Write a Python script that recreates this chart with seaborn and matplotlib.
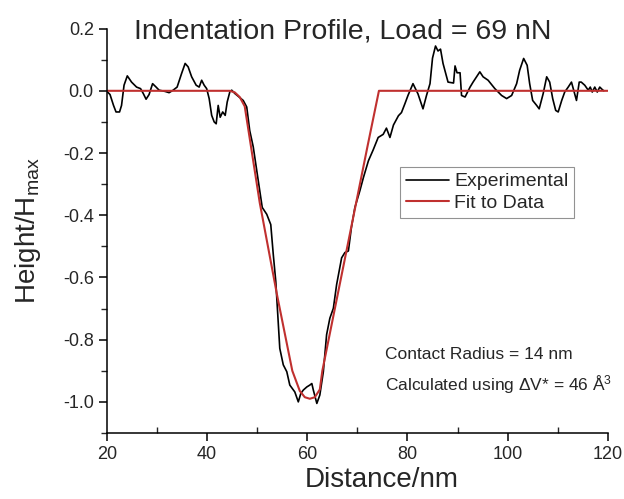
import numpy as np
import seaborn as sns
from matplotlib import pyplot as plt
from matplotlib.ticker import MultipleLocator

# experimental profile
exp_x = [20.0, 20.6, 21.3, 21.8, 22.5, 22.9, 23.4, 24.05, 24.9, 25.9, 26.7, 27.25, 27.8, 28.4, 29.1,
         29.8, 30.4, 31.6, 32.4, 33.2, 34.0, 34.9, 35.6, 36.2, 36.9, 37.8, 38.4, 38.9, 39.4, 39.9,
         40.4, 40.9, 41.4, 41.8, 42.2, 42.6, 43.1, 43.6, 44.0, 44.55, 44.9, 45.55, 47.2, 47.9, 48.5,
         49.2, 49.9, 50.5, 51.0, 51.9, 52.7, 53.2, 53.7, 54.1, 54.5, 55.2, 55.9, 56.5, 57.5, 58.2,
         58.7, 59.2, 59.9, 60.5, 60.9, 61.2, 61.9, 62.5, 63.2, 63.85, 64.5, 65.2, 65.85, 66.85, 67.5,
         68.2, 68.8, 69.5, 70.5, 71.2, 72.2, 73.15, 74.15, 75.15, 75.8, 76.5, 77.2, 78.2, 78.8, 79.5,
         80.1, 81.1, 82.1, 83.1, 83.8, 84.5, 85.0, 85.6, 86.1, 86.6, 87.1, 88.1, 89.2, 89.5, 89.9,
         90.5, 90.8, 91.5, 92.5, 93.1, 93.8, 94.45, 95.1, 96.1, 97.45, 98.8, 99.8, 100.8, 101.8, 102.4,
         103.2, 103.9, 104.4, 105.0, 105.8, 106.3, 107.1, 107.8, 108.4, 109.0, 109.6, 110.1, 110.8,
         111.4, 112.1, 112.75, 113.2, 113.75, 114.3, 114.7, 115.4, 116.1, 116.5, 116.9, 117.4, 117.9,
         118.4, 118.9, 119.2]
exp_y = [-0.002, -0.012, -0.047, -0.068, -0.068, -0.047, 0.018, 0.048, 0.028, 0.012, 0.007, -0.009,
         -0.027, -0.012, 0.023, 0.012, 0.002, -0.002, -0.006, 0.002, 0.012, 0.056, 0.088, 0.077,
         0.045, 0.018, 0.012, 0.034, 0.018, 0.007, -0.025, -0.079, -0.100, -0.106, -0.047, -0.085,
         -0.068, -0.079, -0.036, -0.002, 0.002, -0.009, -0.031, -0.052, -0.128, -0.180, -0.257,
         -0.321, -0.375, -0.397, -0.430, -0.526, -0.612, -0.720, -0.828, -0.881, -0.903, -0.946,
         -0.968, -1.000, -0.973, -0.962, -0.952, -0.946, -0.941, -0.962, -1.005, -0.978, -0.903,
         -0.784, -0.731, -0.699, -0.623, -0.537, -0.520, -0.515, -0.440, -0.375, -0.321, -0.279,
         -0.225, -0.190, -0.150, -0.140, -0.120, -0.150, -0.110, -0.080, -0.070, -0.041, -0.015,
         0.023, -0.010, -0.058, -0.015, 0.023, 0.105, 0.144, 0.128, 0.134, 0.088, 0.028, 0.025,
         0.080, 0.058, 0.058, -0.015, -0.020, 0.012, 0.028, 0.045, 0.061, 0.045, 0.034, 0.007,
         -0.015, -0.025, -0.015, 0.023, 0.066, 0.104, 0.082, 0.023, -0.031, -0.047, -0.058, -0.009,
         0.045, 0.028, -0.025, -0.063, -0.068, -0.031, -0.004, 0.012, 0.028, 0.002, -0.031, 0.028,
         0.028, 0.018, 0.002, 0.012, -0.004, 0.012, -0.004, 0.012, 0.004, 0.0]

# fitted profile
fit_x = [20, 44.5, 45.5, 46.5, 47.5, 50.5, 54, 57, 58.5, 59.5, 60.5, 61.5, 62.5, 63, 66, 69, 72, 74.3, 120]
fit_y = [0, 0, -0.005, -0.02, -0.05, -0.36, -0.66, -0.9, -0.965, -0.985, -0.99, -0.985, -0.96, -0.9,
         -0.66, -0.42, -0.18, 0, 0]

sns.set_style('ticks')
plt.rcParams['font.family'] = ['Liberation Sans', 'DejaVu Sans']
plt.rcParams['mathtext.default'] = 'regular'

fig, ax = plt.subplots(figsize=(6.24, 4.99), dpi=100)
fig.subplots_adjust(left=0.1715, right=0.974, bottom=0.1323, top=0.9427)

sns.lineplot(x=exp_x, y=exp_y, ax=ax, color='black', lw=1.2, label='Experimental')
sns.lineplot(x=fit_x, y=fit_y, ax=ax, color='#c0302f', lw=1.5, label='Fit to Data')

ax.set_xlim(20, 120)
ax.set_ylim(-1.1, 0.2)
ax.xaxis.set_major_locator(MultipleLocator(20))
ax.xaxis.set_minor_locator(MultipleLocator(10))
ax.yaxis.set_major_locator(MultipleLocator(0.2))
ax.yaxis.set_minor_locator(MultipleLocator(0.1))
ax.yaxis.set_major_formatter(lambda v, p: f'{v:.1f}')
ax.tick_params(which='major', length=6, width=1.1, labelsize=13, color='black', direction='out')
ax.tick_params(axis='x', which='minor', length=4, width=1.0, direction='in')
ax.tick_params(axis='y', which='minor', length=4, width=1.0, direction='out')
for s in ['left', 'bottom']:
    ax.spines[s].set_linewidth(1.1)
    ax.spines[s].set_color('black')
sns.despine(ax=ax)

ax.set_xlabel('Distance/nm', fontsize=20)
ax.set_ylabel('Height/H$_{max}$', fontsize=20)
ax.xaxis.set_label_coords(0.549, -0.085)
ax.yaxis.set_label_coords(-0.128, 0.5)

ax.text(67.0, 0.192, 'Indentation Profile, Load = 69 nN', ha='center', va='center', fontsize=20.5)
ax.text(75.5, -0.848, 'Contact Radius = 14 nm', ha='left', va='center', fontsize=12.5)
ax.text(75.5, -0.945, 'Calculated using $\\Delta$V* = 46 Å$^3$', ha='left', va='center', fontsize=12.5)

leg = ax.legend(loc='upper left', bbox_to_anchor=(0.585, 0.658), fontsize=14, frameon=True,
                fancybox=False, edgecolor='#777777', handlelength=2.2, handletextpad=0.3,
                borderpad=0.3, labelspacing=0.2, borderaxespad=0)
leg.get_frame().set_linewidth(0.8)

fig.savefig('out.png', dpi=100)
